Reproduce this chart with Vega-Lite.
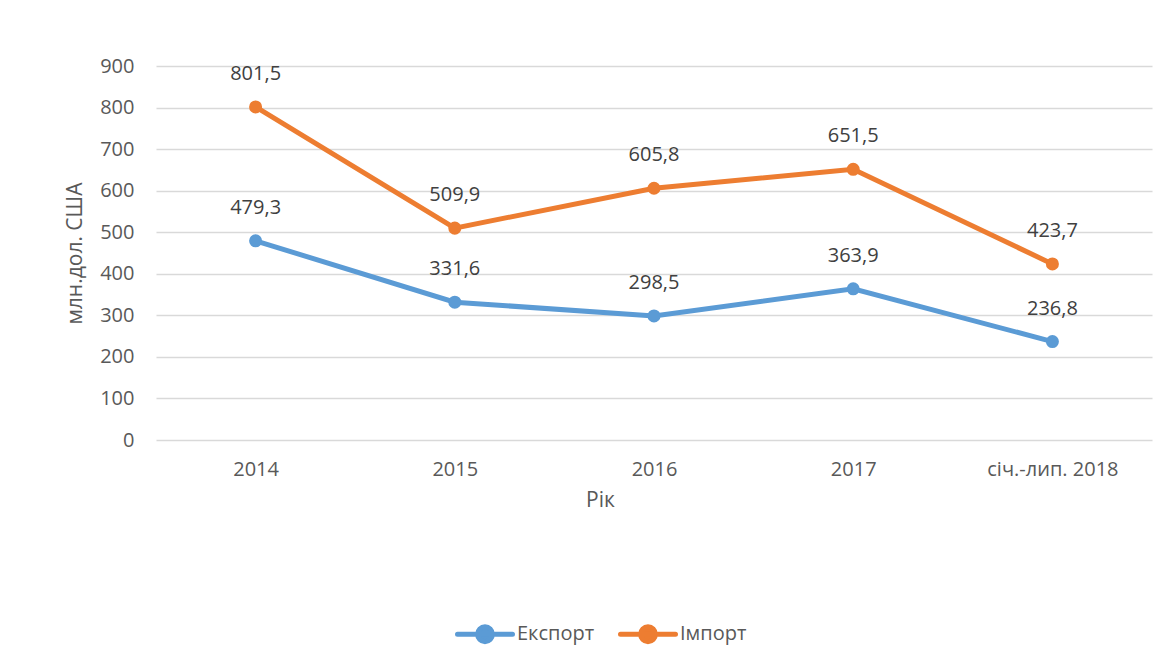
{
  "$schema": "https://vega.github.io/schema/vega-lite/v6.json",
  "width": 996,
  "height": 374,
  "autosize": {"type": "none"},
  "padding": {"left": 156, "top": 66, "right": 16, "bottom": 232},
  "background": "white",
  "config": {
    "font": "Open Sans",
    "view": {"stroke": null},
    "axis": {"labelColor": "#595959", "titleColor": "#595959", "labelFontSize": 20, "titleFontSize": 21, "titleFontWeight": "normal", "labelFont": "Open Sans", "titleFont": "Open Sans"}
  },
  "data": {
    "values": [
      {"period": "2014", "series": "Експорт", "value": 479.3, "label": "479,3"},
      {"period": "2015", "series": "Експорт", "value": 331.6, "label": "331,6"},
      {"period": "2016", "series": "Експорт", "value": 298.5, "label": "298,5"},
      {"period": "2017", "series": "Експорт", "value": 363.9, "label": "363,9"},
      {"period": "січ.-лип. 2018", "series": "Експорт", "value": 236.8, "label": "236,8"},
      {"period": "2014", "series": "Імпорт", "value": 801.5, "label": "801,5"},
      {"period": "2015", "series": "Імпорт", "value": 509.9, "label": "509,9"},
      {"period": "2016", "series": "Імпорт", "value": 605.8, "label": "605,8"},
      {"period": "2017", "series": "Імпорт", "value": 651.5, "label": "651,5"},
      {"period": "січ.-лип. 2018", "series": "Імпорт", "value": 423.7, "label": "423,7"}
    ]
  },
  "encoding": {
    "x": {
      "field": "period", "type": "ordinal", "sort": null,
      "scale": {"type": "point", "padding": 0.5},
      "axis": {"title": "Рік", "labelAngle": 0, "ticks": false, "domain": false, "labelPadding": 19, "titleX": 444, "titleY": 60, "titleBaseline": "middle", "titleAlign": "center"}
    },
    "y": {
      "field": "value", "type": "quantitative",
      "scale": {"domain": [0, 900]},
      "axis": {"title": "млн.дол. США", "values": [0,100,200,300,400,500,600,700,800,900], "ticks": false, "domain": false, "labelPadding": 22, "gridColor": "#D9D9D9", "gridWidth": 1.3, "titleX": -81, "titleY": 187, "titleAngle": -90, "titleAlign": "center", "titleBaseline": "middle"}
    },
    "color": {
      "field": "series", "type": "nominal",
      "scale": {"domain": ["Експорт", "Імпорт"], "range": ["#5B9BD5", "#ED7D31"]}
    }
  },
  "layer": [
    {
      "mark": {"type": "line", "strokeWidth": 5, "strokeCap": "round"},
      "encoding": {
        "color": {
          "field": "series", "type": "nominal",
          "scale": {"domain": ["Експорт", "Імпорт"], "range": ["#5B9BD5", "#ED7D31"]},
          "legend": {
            "title": null, "orient": "none", "direction": "horizontal",
            "legendX": 299, "legendY": 538,
            "symbolType": "M-1,0H1M-0.27,0A0.27,0.27,0,1,0,0.27,0A0.27,0.27,0,1,0,-0.27,0Z",
            "symbolSize": 3025, "symbolStrokeWidth": 5,
            "labelFontSize": 20, "labelColor": "#595959", "labelFont": "Open Sans",
            "columnPadding": 15, "labelOffset": 2,
            "encode": {"symbols": {"update": {"fill": {"scale": "color", "field": "value"}, "fillOpacity": {"value": 1}, "strokeCap": {"value": "round"}}}}
          }
        }
      }
    },
    {
      "mark": {"type": "point", "filled": true, "size": 170, "opacity": 1},
      "encoding": {"color": {"field": "series", "type": "nominal", "legend": null}}
    },
    {
      "mark": {"type": "text", "dy": -33, "fontSize": 20, "color": "#404040", "font": "Open Sans"},
      "encoding": {"text": {"field": "label"}, "color": {"value": "#404040"}}
    }
  ]
}
